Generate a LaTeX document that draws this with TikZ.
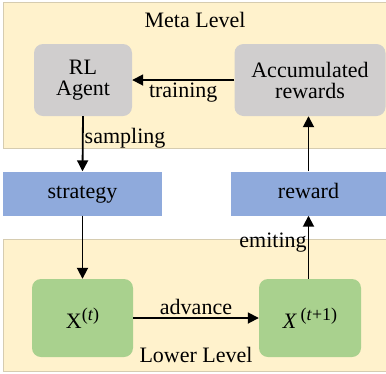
\documentclass[tikz,border=0pt]{standalone}
\usepackage{fontspec}
\setmainfont{Liberation Serif}
\usetikzlibrary{arrows.meta}
\definecolor{bandy}{HTML}{FFF2CC}
\definecolor{bandline}{HTML}{D6CCB0}
\definecolor{grayb}{HTML}{D0CECE}
\definecolor{blueb}{HTML}{8FAADC}
\definecolor{greenb}{HTML}{A9D18E}
\newcommand{\supx}[1]{\raisebox{8pt}{\fontsize{18}{18}\selectfont#1}}
\tikzset{
  band/.style={fill=bandy, draw=bandline, line width=0.8pt},
  graybox/.style={fill=grayb, rounded corners=9pt, align=center, inner sep=0pt},
  bluebox/.style={fill=blueb, inner sep=0pt},
  greenbox/.style={fill=greenb, rounded corners=9pt, inner sep=0pt},
  conn/.style={line width=1.8pt, -{Triangle[length=11pt,width=11pt]}},
  lbl/.style={inner sep=1pt},
}
\begin{document}
\begin{tikzpicture}[x=1pt,y=-1pt,font=\fontsize{22}{24}\selectfont]
\useasboundingbox (0,0) rectangle (386,373);
\fill[white] (0,0) rectangle (386,373);
% bands
\path[band] (3,2) rectangle (388,148);
\path[band] (3,239) rectangle (388,371);
\node at (195,20) {Meta Level};
\node at (196,355) {Lower Level};
% boxes
\node[graybox, minimum width=98pt, minimum height=72pt] (rl) at (83,80) {RL\\[-3pt]Agent};
\node[graybox, minimum width=151pt, minimum height=72pt] (acc) at (310,80) {Accumulated\\[-3pt]rewards};
\node[bluebox, minimum width=159pt, minimum height=44pt, text height=15pt, text depth=5pt] (str) at (82.5,193.5) {strategy};
\node[bluebox, minimum width=155pt, minimum height=44pt, text height=15pt, text depth=5pt] (rew) at (308.5,193.5) {reward};
\node[greenbox, minimum width=101pt, minimum height=78pt] (xt) at (82.5,318) {X\supx{(\textit{t})}};
\node[greenbox, minimum width=102pt, minimum height=78pt] (xt1) at (310,318) {\textit{X}\,\supx{(\textit{t}+1)}};
% connectors
\draw[conn] (acc.west) -- node[lbl, below=1pt] {training} (rl.east);
\draw[conn] (rl.south) -- node[lbl, right, pos=0.4] {sampling} (str.north);
\draw[conn] (str.south) -- (xt.north);
\draw[conn] (xt.east) -- node[lbl, above=1pt] {advance} (xt1.west);
\draw[conn] (xt1.north -| rew.south) -- node[lbl, left, pos=0.58] {emiting} (rew.south);
\draw[conn] (rew.north) -- (rew.north |- acc.south);
\end{tikzpicture}
\end{document}
